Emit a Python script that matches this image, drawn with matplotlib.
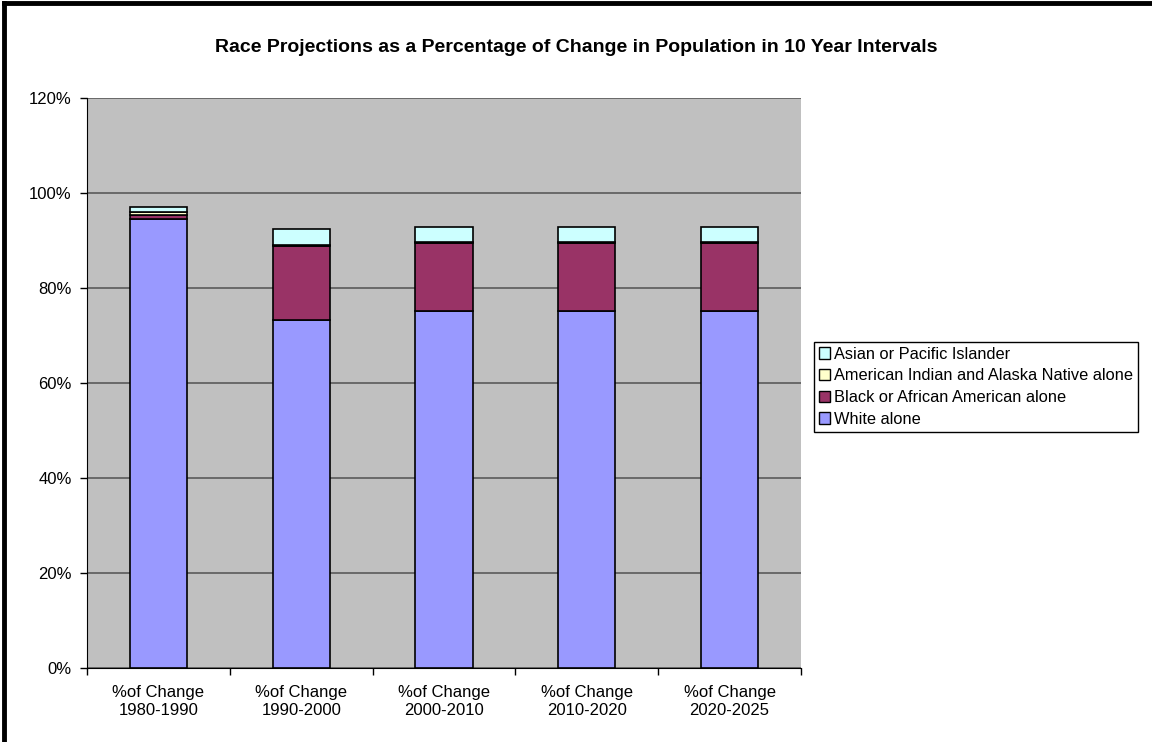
import numpy as np
import matplotlib
matplotlib.use('Agg')
import matplotlib.pyplot as plt
from matplotlib.lines import Line2D
from matplotlib.ticker import FixedLocator

plt.rcParams['font.family'] = ['Liberation Sans', 'DejaVu Sans']

categories = ['%of Change\n1980-1990', '%of Change\n1990-2000', '%of Change\n2000-2010',
              '%of Change\n2010-2020', '%of Change\n2020-2025']
white = [94.5, 73.2, 75.1, 75.1, 75.1]
black = [0.9, 15.6, 14.3, 14.3, 14.3]
am_indian = [0.6, 0.3, 0.3, 0.3, 0.3]
asian = [1.1, 3.4, 3.2, 3.2, 3.2]

series = [
    ('White alone', white, '#9999FF'),
    ('Black or African American alone', black, '#993366'),
    ('American Indian and Alaska Native alone', am_indian, '#FFFFCC'),
    ('Asian or Pacific Islander', asian, '#CCFFFF'),
]

fig = plt.figure(figsize=(11.52, 7.42), dpi=100)
ax = fig.add_axes([87 / 1152, 1 - 668 / 742, 714 / 1152, 570 / 742])
ax.set_facecolor('#C0C0C0')

x = np.arange(len(categories))
bottom = np.zeros(len(categories))
handles = []
for name, vals, col in series:
    vals = np.array(vals)
    ax.bar(x, vals, 0.4, bottom=bottom, color=col, edgecolor='black', linewidth=1.2, zorder=3)
    bottom += vals
    handles.append(plt.Rectangle((0, 0), 1, 1, facecolor=col, edgecolor='black', linewidth=1, label=name))

ax.set_xlim(-0.5, len(categories) - 0.5)
ax.set_ylim(0, 120)
ax.set_yticks(np.arange(0, 121, 20))
ax.set_yticklabels([f'{v}%' for v in range(0, 121, 20)], fontsize=12)
ax.yaxis.grid(True, color='#5a5a5a', linewidth=1.2, zorder=1)
ax.set_axisbelow(True)
ax.tick_params(axis='y', direction='out', length=5, width=1, pad=6)

ax.set_xticks(x)
ax.set_xticklabels(categories, fontsize=12, linespacing=1.3)
ax.tick_params(axis='x', length=0, pad=12)
ax.xaxis.set_minor_locator(FixedLocator(np.arange(-0.5, len(categories), 1.0)))
ax.tick_params(axis='x', which='minor', direction='out', length=5, width=1)

for s in ['top', 'right']:
    ax.spines[s].set_visible(False)
ax.spines['left'].set_color('black')
ax.spines['bottom'].set_color('black')

ax.legend(handles=handles[::-1], loc='upper left', bbox_to_anchor=(814 / 1152, 1 - 342 / 742),
          bbox_transform=fig.transFigure, fontsize=11.8, frameon=True, fancybox=False,
          edgecolor='black', framealpha=1, borderpad=0.3, handlelength=0.7, handleheight=0.7,
          handletextpad=0.25, labelspacing=0.4, borderaxespad=0)

fig.text(0.5, 1 - 48 / 742, 'Race Projections as a Percentage of Change in Population in 10 Year Intervals',
         ha='center', va='center', fontsize=14, fontweight='bold')

# outer frame
fig.add_artist(Line2D([4 / 1152, 4 / 1152], [0, 1 - 3 / 742], transform=fig.transFigure, color='black', linewidth=3.5))
fig.add_artist(Line2D([4 / 1152, 1], [1 - 3 / 742, 1 - 3 / 742], transform=fig.transFigure, color='black', linewidth=3.5))

fig.savefig('out.png', dpi=100)
